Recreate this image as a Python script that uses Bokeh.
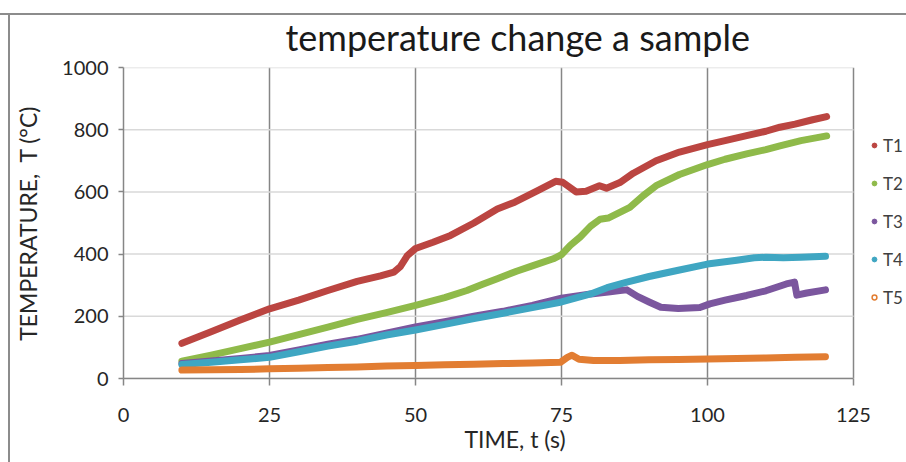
from bokeh.plotting import figure
from bokeh.models import Range1d, FixedTicker, Legend, LegendItem, ColumnDataSource
from bokeh.embed import file_html
from bokeh.resources import INLINE

# ---- data ----
x_ticks = [0, 25, 50, 75, 100, 125]
y_ticks = [0, 200, 400, 600, 800, 1000]
series_names = ["T1", "T2", "T3", "T4", "T5"]

t1 = [10, 15, 20, 25, 30, 35, 40, 44, 46.3, 47.4, 48.6, 50, 53, 56, 60, 64, 67, 71, 74,
      75.2, 77.5, 79.2, 81.5, 82.7, 85, 87.3, 91.2, 95.2, 100, 103, 106.7, 110, 112.4,
      115, 118, 120.4]
T1 = [113, 150, 188, 224, 252, 283, 312, 330, 342, 360, 395, 418, 438, 460, 500, 545, 567,
      605, 634, 631, 600, 602, 620, 612, 630, 660, 700, 728, 752, 765, 781, 795, 808, 818,
      832, 842]

t2 = [10, 15, 20, 25, 30, 35, 40, 45, 50, 55, 58.8, 61.5, 64, 67.3, 70, 73.6, 75, 76.5,
      78.2, 80, 81.6, 83, 86.7, 89, 91.2, 95.2, 100, 103, 106.7, 110, 112.4, 116, 120.4]
T2 = [56, 75, 96, 117, 141, 165, 190, 212, 235, 260, 283, 303, 321, 345, 362, 385, 398, 428,
      455, 490, 512, 516, 550, 588, 620, 656, 688, 705, 722, 736, 748, 765, 780]

t3 = [10, 15, 20, 25, 30, 35, 40, 45, 50, 55, 60, 65, 70, 75, 80, 83, 85, 86.2, 88, 90, 92,
      95, 98.7, 100.4, 103, 106.7, 110, 113.5, 114.9, 115.3, 117, 120.2]
T3 = [48, 56, 64, 74, 92, 110, 126, 146, 166, 183, 200, 216, 235, 258, 272, 278, 283, 285,
      264, 246, 229, 225, 228, 240, 252, 267, 282, 304, 310, 268, 275, 285]

t4 = [10, 15, 20, 25, 30, 35, 40, 45, 50, 55, 60, 65, 70, 75, 80, 82.8, 86.2, 90, 95, 100,
      105, 108, 110, 113, 116, 120.2]
T4 = [45, 52, 60, 68, 86, 104, 120, 140, 156, 174, 193, 210, 228, 246, 272, 292, 310, 328,
      348, 368, 380, 388, 390, 388, 390, 393]

t5 = [10, 15, 20, 25, 30, 35, 40, 45, 50, 55, 60, 65, 70, 74.8, 76, 76.8, 78, 80.5, 85, 90,
      95, 100, 105, 110, 115, 120.2]
T5 = [27, 28, 29, 31, 33, 35, 37, 40, 42, 44, 46, 48, 50, 52, 68, 75, 62, 58, 58, 60, 61, 63,
      64, 66, 68, 70]

colors = ["#bb4541", "#8fba4a", "#7b569e", "#3fa6c2", "#e27d32"]
FONT = "Lato"

W, H = 906, 462
LEFT, TOP, BOTTOM = 123, 67, 84
PLOT_W = 730  # pixel width of the 0..125 axis span
# the frame runs to the right edge so the legend (outside the axis span) is not clipped
x_end = x_ticks[-1] * (W - LEFT) / PLOT_W

p = figure(width=W, height=H, output_backend="svg", toolbar_location=None,
           x_range=Range1d(0, x_end), y_range=Range1d(0, 1000),
           min_border_left=LEFT, min_border_right=0, min_border_top=TOP,
           min_border_bottom=BOTTOM, title="temperature change a sample")
# outer chart border (top and left edges visible in the reference), drawn behind the canvas
p.styles = {
    "background": ("linear-gradient(#8c8c8c, #8c8c8c) 0px 13px / 100% 2px no-repeat, "
                   "linear-gradient(#8c8c8c, #8c8c8c) 8px 13px / 2px 100% no-repeat, #ffffff"),
}
p.outline_line_color = None
p.background_fill_color = "white"
p.border_fill_alpha = 0

p.title.text_font = FONT
p.title.text_font_size = "36px"
p.title.text_font_style = "normal"
p.title.text_color = "#1a1a1a"
p.title.align = "left"
p.title.offset = 162
p.title.standoff = 18

p.xaxis.ticker = FixedTicker(ticks=x_ticks)
p.yaxis.ticker = FixedTicker(ticks=y_ticks)
p.xaxis.bounds = (x_ticks[0], x_ticks[-1])
for ax in (p.xaxis, p.yaxis):
    ax.axis_line_color = "#868686"
    ax.axis_line_width = 1.5
    ax.major_tick_line_color = "#868686"
    ax.major_tick_line_width = 1.5
    ax.major_tick_in = 0
    ax.minor_tick_line_color = None
    ax.major_label_text_font = FONT
    ax.major_label_text_font_size = "20px"
    ax.major_label_text_color = "#262626"
    ax.axis_label_text_font = FONT
    ax.axis_label_text_font_style = "normal"
    ax.axis_label_text_color = "#262626"
    ax.axis_label_text_font_size = "23px"
p.xaxis.major_tick_out = 7
p.yaxis.major_tick_out = 5
p.xaxis.major_label_standoff = 22
p.yaxis.major_label_standoff = 10
p.xaxis.axis_label = "TIME, t (s)"
p.yaxis.axis_label = "TEMPERATURE,\u00a0 T (°C)"
p.xaxis.axis_label_standoff = 0
p.yaxis.axis_label_standoff = 17

p.xgrid.grid_line_color = "#868686"
p.xgrid.grid_line_width = 1.5
p.ygrid.visible = False
# horizontal grid lines limited to the 0..125 span
p.segment(x0=[x_ticks[0]] * len(y_ticks), x1=[x_ticks[-1]] * len(y_ticks),
          y0=y_ticks, y1=y_ticks, line_color="#d9d9d9", line_width=1.5)

ts = [t1, t2, t3, t4, t5]
vs = [T1, T2, T3, T4, T5]
for i in range(5):
    p.line(ts[i], vs[i], line_width=7, line_color=colors[i],
           line_join="round", line_cap="round")

# legend-only marker renderers (one point each, outside the visible range)
items = []
for i, name in enumerate(series_names):
    src = ColumnDataSource(data=dict(x=[-100], y=[-100]))
    if name == "T5":
        r = p.scatter("x", "y", source=src, marker="circle", size=6.5,
                      fill_color="white", line_color=colors[i], line_width=1.5)
    else:
        r = p.scatter("x", "y", source=src, marker="circle", size=6.5,
                      fill_color=colors[i], line_color=colors[i])
    items.append(LegendItem(label=name, renderers=[r]))

legend = Legend(items=items, location=(745, 70))
legend.padding = 0
legend.margin = 0
legend.border_line_color = None
legend.background_fill_alpha = 0
legend.glyph_width = 12
legend.glyph_height = 22
legend.label_height = 22
legend.spacing = 16
legend.label_standoff = 3
legend.label_text_font = FONT
legend.label_text_font_size = "17px"
legend.label_text_color = "#404040"
p.add_layout(legend)

open("out.html", "w").write(file_html(p, INLINE))
